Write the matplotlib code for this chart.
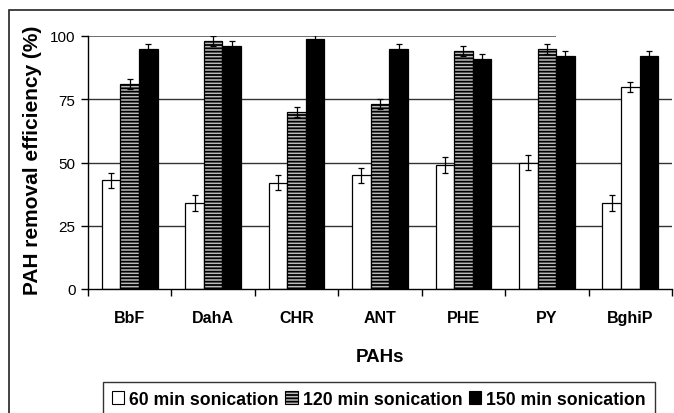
import numpy as np
import matplotlib.pyplot as plt
from matplotlib.patches import Patch, Rectangle

plt.rcParams['hatch.linewidth'] = 1.3

# --- data ---
pahs = ["BbF", "DahA", "CHR", "ANT", "PHE", "PY", "BghiP"]
series_names = ["60 min sonication", "120 min sonication", "150 min sonication"]
eff_60 = [43, 34, 42, 45, 49, 50, 34]
eff_120 = [81, 98, 70, 73, 94, 95, 80]
eff_150 = [95, 96, 99, 95, 91, 92, 92]
err_60 = [3, 3, 3, 3, 3, 3, 3]
err_120 = [2, 2, 2, 2, 2, 2, 2]
err_150 = [2, 2, 1.5, 2, 2, 2, 2]

# fonts (Arial-like)
sans = ['Liberation Sans', 'DejaVu Sans']

fig = plt.figure(figsize=(6.74, 4.14), dpi=100)
ax = fig.add_axes([88 / 674, 1 - 290 / 414, (672 - 88) / 674, (290 - 37) / 414])

# outer border of the chart area
fig.patches.append(Rectangle((9 / 674, -0.1), 1.2, 1 - 11 / 414 + 0.1,
                             transform=fig.transFigure, fill=False,
                             edgecolor='#222222', linewidth=1.2))

n = len(pahs)
width = 1 / 4.5
centers = np.arange(n) + 0.5

# gridlines behind the bars (top one stops short as in the original)
for yv in [25, 50, 75]:
    ax.axhline(yv, color='#333333', linewidth=1, zorder=0)
ax.hlines(100, 0, 5.61, color='#555555', linewidth=1.2, zorder=0)

series = [eff_60, eff_120, eff_150]
errors = [err_60, err_120, err_150]
for k in range(3):
    xs = centers + (k - 1) * width
    for i in range(n):
        if k == 0 or (k == 1 and pahs[i] == "BghiP"):
            fc, hatch = 'white', None
        elif k == 1:
            fc, hatch = '#bbbbbb', '-----'
        else:
            fc, hatch = 'black', None
        ax.bar(xs[i], series[k][i], width, color=fc, edgecolor='black',
               linewidth=0.9, hatch=hatch, zorder=2)
    ax.errorbar(xs, series[k], yerr=errors[k], fmt='none', ecolor='black',
                elinewidth=0.9, capsize=2.3, capthick=0.9, zorder=3)

ax.set_xlim(0, n)
ax.set_ylim(0, 100)
ax.set_xticks(np.arange(n + 1))
ax.set_xticklabels([])
ax.set_xticks(centers, minor=True)
ax.set_xticklabels(pahs, minor=True, fontsize=11.5, fontweight='bold', family=sans)
ax.tick_params(axis='x', which='minor', length=0, pad=15)
ax.tick_params(axis='x', which='major', length=5, width=1, direction='out')
ax.set_yticks([0, 25, 50, 75, 100])
ax.set_yticklabels(["0", "25", "50", "75", "100"], fontsize=11, family=sans)
ax.tick_params(axis='y', length=5, width=1, direction='out', pad=4)

for s in ['top', 'right']:
    ax.spines[s].set_visible(False)
ax.spines['left'].set_linewidth(1)
ax.spines['bottom'].set_linewidth(1)

ax.set_xlabel("PAHs", fontsize=13.5, fontweight='bold', family=sans, labelpad=17)
fig.text(33 / 674, 1 - 160 / 414, "PAH removal efficiency (%)", rotation=90,
         ha='center', va='center', fontsize=15, fontweight='bold', family=sans)

handles = [Patch(facecolor='white', edgecolor='black', linewidth=0.8),
           Patch(facecolor='#bbbbbb', edgecolor='black', hatch='-----', linewidth=0.8),
           Patch(facecolor='black', edgecolor='black', linewidth=0.8)]
leg = fig.legend(handles, series_names, loc='upper left', ncol=3,
                 bbox_to_anchor=(103 / 674, 1 - 383 / 414),
                 prop={'family': sans, 'weight': 'bold', 'size': 12.7},
                 frameon=True, fancybox=False, edgecolor='black',
                 handlelength=0.7, handleheight=0.7, handletextpad=0.3,
                 columnspacing=0.35, borderpad=0.5, borderaxespad=0)
leg.get_frame().set_linewidth(1)

fig.savefig("out.png", dpi=100)
